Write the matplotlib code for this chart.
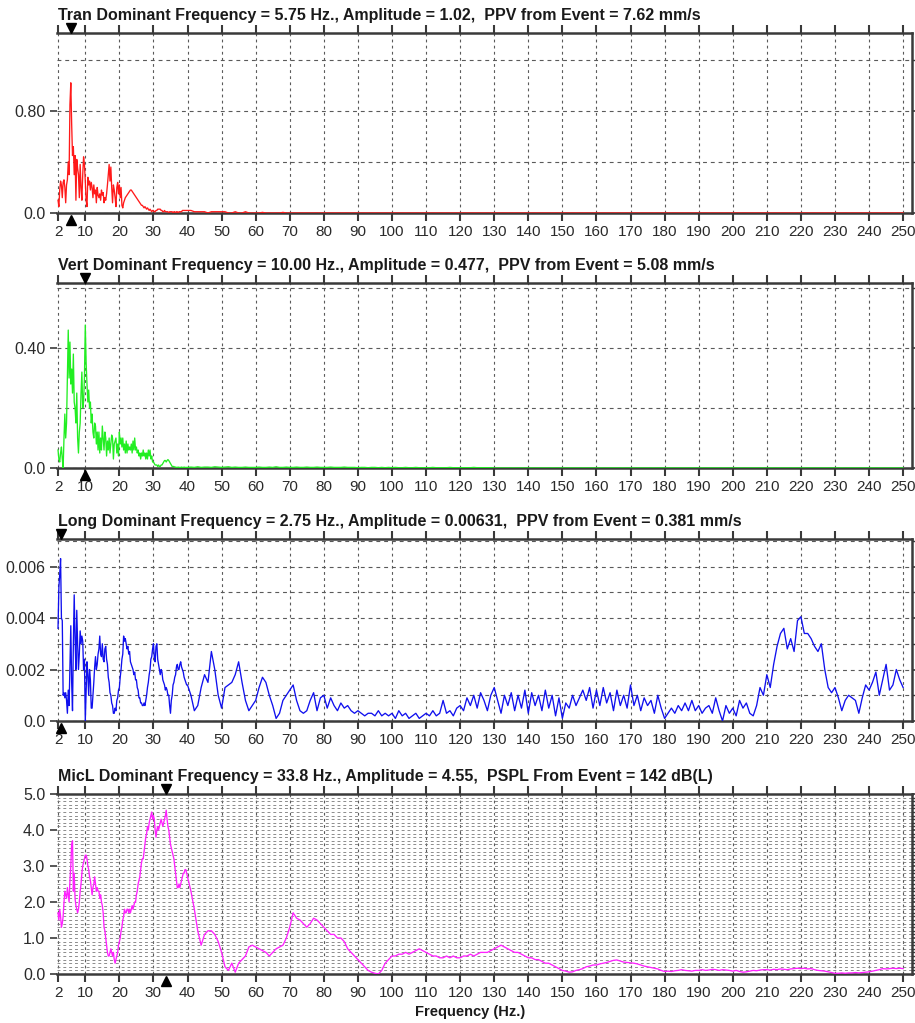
import numpy as np
import matplotlib
matplotlib.use("Agg")
import matplotlib.pyplot as plt
from matplotlib.ticker import FixedLocator, MultipleLocator
from matplotlib.transforms import ScaledTranslation

plt.rcParams['font.family'] = ['Liberation Sans', 'DejaVu Sans']

# spectra are stored on two frequency grids: 0.25 Hz below 40 Hz, 1 Hz above
freq_fine = np.arange(2.0, 40.0, 0.25)
freq_coarse = np.arange(40.0, 251.0, 1.0)

tran_fine = [
    0.10, 0.05, 0.18, 0.25, 0.22, 0.12, 0.24, 0.26,
    0.20, 0.08, 0.22, 0.26, 0.40, 0.30, 0.85, 1.02,
    0.70, 0.45, 0.52, 0.30, 0.45, 0.10, 0.42, 0.35,
    0.30, 0.12, 0.38, 0.20, 0.10, 0.30, 0.44, 0.38,
    0.25, 0.10, 0.05, 0.28, 0.22, 0.25, 0.18, 0.24,
    0.20, 0.12, 0.22, 0.15, 0.18, 0.08, 0.20, 0.14,
    0.12, 0.15, 0.10, 0.18, 0.14, 0.16, 0.08, 0.12,
    0.10, 0.15, 0.22, 0.30, 0.38, 0.25, 0.36, 0.20,
    0.08, 0.22, 0.18, 0.12, 0.05, 0.20, 0.24, 0.15,
    0.22, 0.12, 0.20, 0.06, 0.04, 0.08, 0.10, 0.12,
    0.13, 0.14, 0.15, 0.16, 0.17, 0.18, 0.18, 0.17,
    0.16, 0.15, 0.14, 0.13, 0.12, 0.11, 0.10, 0.09,
    0.08, 0.07, 0.06, 0.06, 0.05, 0.04, 0.05, 0.04,
    0.03, 0.04, 0.03, 0.02, 0.03, 0.02, 0.01, 0.02,
    0.02, 0.01, 0.01, 0.02, 0.02, 0.03, 0.03, 0.03,
    0.03, 0.02, 0.02, 0.01, 0.01, 0.02, 0.01, 0.01,
    0.01, 0.01, 0.00, 0.01, 0.01, 0.01, 0.01, 0.00,
    0.01, 0.01, 0.00, 0.01, 0.01, 0.00, 0.01, 0.01,
    0.01, 0.01, 0.02, 0.02, 0.02, 0.02, 0.02, 0.02,
]
tran_coarse = [
    0.02, 0.02, 0.01, 0.01, 0.01, 0.01, 0.00, 0.01, 0.01, 0.01,
    0.01, 0.01, 0.00, 0.00, 0.01, 0.00, 0.00, 0.01, 0.00, 0.00,
    0.00, 0.00, 0.005, 0.00, 0.00, 0.00, 0.00, 0.00, 0.005, 0.00,
] + [0.0] * 181

vert_fine = [
    0.06, 0.03, 0.02, 0.05, 0.07, 0.03, 0.00, 0.10,
    0.18, 0.10, 0.15, 0.30, 0.46, 0.30, 0.42, 0.28,
    0.33, 0.25, 0.38, 0.22, 0.20, 0.15, 0.25, 0.10,
    0.05, 0.12, 0.15, 0.25, 0.32, 0.20, 0.22, 0.30,
    0.477, 0.35, 0.28, 0.22, 0.26, 0.20, 0.22, 0.15,
    0.18, 0.12, 0.10, 0.15, 0.14, 0.08, 0.12, 0.06,
    0.12, 0.05, 0.10, 0.06, 0.14, 0.10, 0.06, 0.12,
    0.10, 0.04, 0.09, 0.06, 0.10, 0.05, 0.08, 0.11,
    0.10, 0.03, 0.08, 0.09, 0.10, 0.05, 0.08, 0.04,
    0.12, 0.08, 0.10, 0.07, 0.10, 0.06, 0.08, 0.05,
    0.09, 0.05, 0.08, 0.06, 0.07, 0.06, 0.08, 0.05,
    0.09, 0.06, 0.10, 0.06, 0.07, 0.05, 0.06, 0.04,
    0.05, 0.03, 0.05, 0.04, 0.06, 0.04, 0.05, 0.03,
    0.05, 0.03, 0.06, 0.04, 0.06, 0.03, 0.04, 0.02,
    0.02, 0.015, 0.01, 0.01, 0.01, 0.005, 0.01, 0.005,
    0.005, 0.01, 0.01, 0.015, 0.02, 0.025, 0.025, 0.02,
    0.025, 0.028, 0.025, 0.02, 0.015, 0.01, 0.005, 0.005,
    0.005, 0.003, 0.003, 0.002, 0.002, 0.003, 0.002, 0.002,
    0.002, 0.003, 0.002, 0.002, 0.003, 0.002, 0.002, 0.002,
]
vert_coarse = [
    0.002, 0.003, 0.002, 0.004, 0.002, 0.003, 0.003, 0.002, 0.004, 0.003,
    0.002, 0.003, 0.004, 0.002, 0.003, 0.002, 0.002, 0.003, 0.002, 0.002,
    0.002, 0.003, 0.002, 0.002, 0.003, 0.002, 0.004, 0.002, 0.002, 0.003,
    0.002, 0.002, 0.003, 0.002, 0.002, 0.003, 0.002, 0.002, 0.003, 0.002,
    0.002, 0.002, 0.003, 0.002, 0.002, 0.002, 0.003, 0.002, 0.002, 0.002,
    0.001, 0.002, 0.002, 0.001, 0.002, 0.002, 0.001, 0.002, 0.001, 0.002,
    0.001, 0.002, 0.001, 0.001, 0.002, 0.001, 0.001, 0.002, 0.001, 0.001,
    0.001, 0.001, 0.002, 0.001, 0.001, 0.001, 0.001, 0.002, 0.001, 0.001,
    0.001, 0.001, 0.001, 0.001, 0.002, 0.001, 0.001, 0.001, 0.001, 0.001,
] + [0.0] * 121

# longitudinal amplitudes in units of 1e-3
long_fine_e3 = [
    3.6, 5.2, 5.7, 6.31, 4.0, 3.9, 1.0, 1.1,
    0.9, 1.1, 0.8, 0.3, 1.2, 0.6, 2.2, 3.7,
    1.5, 0.4, 3.0, 4.9, 3.2, 2.0, 4.3, 3.0,
    2.0, 2.6, 3.5, 3.0, 3.3, 3.1, 2.0, 2.4,
    0.0, 1.2, 2.3, 1.8, 1.0, 2.0, 1.6, 0.5,
    0.5, 1.0, 1.5, 2.1, 2.5, 2.0, 2.2, 2.6,
    2.8, 3.3, 2.6, 2.5, 3.0, 2.4, 2.3, 2.8,
    2.9, 2.4, 2.2, 1.7, 1.5, 1.1, 1.0, 0.7,
    0.6, 0.3, 0.3, 0.5, 0.4, 0.8, 0.9, 1.2,
    1.3, 1.7, 2.0, 2.4, 2.6, 3.3, 3.1, 3.2,
    3.0, 2.8, 2.9, 2.6, 2.7, 2.3, 2.2, 2.1,
    2.0, 1.8, 1.9, 1.6, 1.6, 1.3, 1.2, 0.9,
    0.9, 0.7, 0.7, 0.6, 0.6, 0.7, 0.6, 0.8,
    1.0, 1.3, 1.5, 1.8, 2.0, 2.4, 2.5, 2.8,
    3.0, 2.5, 2.3, 2.9, 3.0, 2.4, 2.2, 2.0,
    1.8, 2.0, 1.9, 1.6, 1.5, 1.4, 1.2, 1.3,
    1.2, 1.0, 1.0, 0.6, 0.3, 0.8, 1.0, 1.4,
    1.5, 1.7, 1.8, 2.1, 2.2, 2.0, 2.0, 2.2,
    2.3, 2.1, 2.0, 1.9, 1.7, 1.6, 1.5, 1.4,
]
long_coarse_e3 = [
    1.4, 1.0, 0.4, 0.6, 1.3, 1.8, 1.5, 2.7, 2.0, 1.0,
    0.5, 1.3, 1.4, 1.5, 1.8, 2.3, 1.5, 0.8, 0.4, 0.6,
    0.8, 1.3, 1.7, 1.5, 1.0, 0.6, 0.1, 0.3, 0.8, 1.0,
    1.2, 1.4, 0.8, 0.4, 0.3, 0.4, 0.8, 1.1, 0.4, 0.9,
    1.0, 0.5, 0.9, 0.6, 0.4, 0.7, 0.5, 0.6, 0.4, 0.3,
    0.4, 0.3, 0.2, 0.3, 0.3, 0.2, 0.4, 0.2, 0.3, 0.2,
    0.3, 0.1, 0.4, 0.2, 0.3, 0.1, 0.2, 0.3, 0.1, 0.2,
    0.3, 0.2, 0.4, 0.2, 0.3, 0.8, 0.3, 0.4, 0.2, 0.5,
    0.6, 0.4, 0.9, 0.6, 1.0, 0.5, 1.1, 0.8, 0.4, 1.0,
    1.3, 0.8, 0.3, 1.0, 0.6, 1.1, 0.4, 1.0, 0.5, 1.2,
    0.3, 1.1, 0.6, 1.0, 0.4, 1.2, 0.5, 1.0, 0.2, 0.9,
    0.1, 0.7, 0.5, 1.0, 0.6, 0.9, 1.2, 0.8, 1.3, 0.5,
    1.2, 0.6, 1.3, 0.7, 1.1, 0.4, 1.2, 0.6, 1.0, 0.5,
    1.4, 0.6, 1.0, 0.4, 0.9, 0.6, 0.8, 0.3, 1.0, 0.5,
    0.1, 0.3, 0.5, 0.3, 0.6, 0.4, 0.7, 0.4, 0.8, 0.4,
    0.6, 0.3, 0.5, 0.6, 0.3, 0.9, 0.4, 0.0, 0.6, 0.3,
    0.5, 0.2, 0.8, 0.5, 0.7, 0.3, 0.2, 0.6, 1.3, 1.0,
    1.8, 1.3, 2.2, 2.9, 3.4, 3.6, 2.8, 3.2, 2.7, 3.9,
    4.05, 3.4, 3.4, 3.2, 2.9, 2.7, 3.0, 2.0, 1.3, 1.1,
    1.3, 0.9, 0.4, 0.8, 1.0, 0.9, 0.8, 0.3, 0.9, 1.4,
    1.2, 1.5, 1.9, 1.0, 1.6, 2.2, 1.2, 1.4, 2.0, 1.6,
    1.3,
]

mic_fine = [
    1.7, 1.5, 1.8, 1.6, 1.3, 1.4, 1.6, 2.0,
    2.3, 2.2, 2.1, 2.4, 2.2, 2.0, 2.6, 3.0,
    3.6, 3.7, 2.3, 2.8, 2.1, 1.9, 1.8, 1.7,
    1.8, 2.0, 2.3, 2.5, 2.8, 3.0, 3.1, 3.2,
    3.3, 3.3, 3.2, 3.0, 2.9, 2.7, 2.6, 2.4,
    2.2, 2.4, 2.5, 2.7, 2.5, 2.3, 2.4, 2.3,
    2.3, 2.1, 2.2, 2.0, 1.9, 1.7, 1.3, 1.2,
    1.0, 0.8, 0.6, 0.5, 0.5, 0.6, 0.7, 0.6,
    0.5, 0.6, 0.4, 0.3, 0.4, 0.5, 0.6, 0.8,
    0.9, 1.0, 1.2, 1.3, 1.5, 1.6, 1.8, 1.7,
    1.7, 1.8, 1.8, 1.7, 1.8, 1.7, 1.8, 1.9,
    1.8, 1.9, 2.0, 2.0, 2.2, 2.3, 2.5, 2.6,
    2.7, 2.9, 3.1, 3.2, 3.2, 3.4, 3.6, 3.8,
    3.9, 4.1, 4.0, 4.2, 4.3, 4.4, 4.5, 4.3,
    4.4, 4.3, 4.0, 3.8, 4.0, 4.1, 4.0, 4.1,
    4.2, 4.3, 4.2, 4.1, 4.2, 4.3, 4.4, 4.55,
    4.3, 4.1, 4.0, 3.8, 3.6, 3.5, 3.4, 3.3,
    3.2, 3.0, 2.8, 2.6, 2.4, 2.4, 2.5, 2.4,
    2.5, 2.6, 2.7, 2.8, 2.8, 2.9, 2.9, 2.8,
]
mic_coarse = [
    2.7, 2.3, 1.8, 1.2, 0.8, 1.1, 1.2, 1.2, 1.1, 0.9,
    0.6, 0.2, 0.1, 0.3, 0.05, 0.3, 0.4, 0.5, 0.75, 0.8,
    0.75, 0.7, 0.65, 0.6, 0.5, 0.6, 0.7, 0.75, 0.8, 1.0,
    1.3, 1.7, 1.55, 1.5, 1.4, 1.3, 1.4, 1.55, 1.5, 1.4,
    1.3, 1.2, 1.1, 1.1, 1.0, 1.0, 0.9, 0.7, 0.6, 0.5,
    0.4, 0.3, 0.2, 0.1, 0.05, 0.02, 0.0, 0.1, 0.3, 0.4,
    0.5, 0.5, 0.55, 0.55, 0.6, 0.55, 0.6, 0.65, 0.7, 0.65,
    0.6, 0.55, 0.5, 0.5, 0.45, 0.45, 0.5, 0.45, 0.5, 0.45,
    0.45, 0.5, 0.5, 0.55, 0.5, 0.55, 0.6, 0.6, 0.6, 0.65,
    0.7, 0.75, 0.8, 0.75, 0.7, 0.65, 0.6, 0.6, 0.55, 0.5,
    0.45, 0.45, 0.4, 0.4, 0.35, 0.3, 0.3, 0.25, 0.2, 0.15,
    0.1, 0.08, 0.05, 0.06, 0.1, 0.12, 0.15, 0.2, 0.22, 0.25,
    0.25, 0.28, 0.3, 0.32, 0.35, 0.38, 0.39, 0.36, 0.33, 0.32,
    0.31, 0.3, 0.28, 0.25, 0.22, 0.2, 0.18, 0.16, 0.14, 0.1,
    0.07, 0.08, 0.07, 0.09, 0.1, 0.12, 0.1, 0.09, 0.08, 0.1,
    0.1, 0.12, 0.1, 0.11, 0.13, 0.12, 0.1, 0.12, 0.11, 0.1,
    0.08, 0.1, 0.07, 0.05, 0.06, 0.08, 0.1, 0.09, 0.11, 0.12,
    0.12, 0.11, 0.13, 0.12, 0.14, 0.13, 0.12, 0.14, 0.15, 0.16,
    0.15, 0.16, 0.14, 0.15, 0.12, 0.1, 0.09, 0.08, 0.06, 0.04,
    0.02, 0.02, 0.03, 0.02, 0.03, 0.03, 0.04, 0.03, 0.04, 0.05,
    0.06, 0.08, 0.1, 0.12, 0.15, 0.14, 0.15, 0.16, 0.15, 0.16,
    0.15,
]

titles = [
    "Tran Dominant Frequency = 5.75 Hz., Amplitude = 1.02,  PPV from Event = 7.62 mm/s",
    "Vert Dominant Frequency = 10.00 Hz., Amplitude = 0.477,  PPV from Event = 5.08 mm/s",
    "Long Dominant Frequency = 2.75 Hz., Amplitude = 0.00631,  PPV from Event = 0.381 mm/s",
    "MicL Dominant Frequency = 33.8 Hz., Amplitude = 4.55,  PSPL From Event = 142 dB(L)",
]
dominant_freqs = [5.75, 10.0, 2.75, 33.75]
colors = ['#ff1a1a', '#22ee22', '#1010ee', '#ff22ff']
ymax = [1.41, 0.617, 0.00707, 5.0]
ytick_vals = [[0.0, 0.8], [0.0, 0.4], [0.0, 0.002, 0.004, 0.006],
              [0.0, 1.0, 2.0, 3.0, 4.0, 5.0]]
ytick_labels = [["0.0", "0.80"], ["0.0", "0.40"], ["0.0", "0.002", "0.004", "0.006"],
                ["0.0", "1.0", "2.0", "3.0", "4.0", "5.0"]]
ygrid_step = [0.4, 0.2, 0.001, 0.1]
xticks = [2] + list(range(10, 251, 10))

freq = np.concatenate([freq_fine, freq_coarse])
series = [
    np.concatenate([tran_fine, tran_coarse]),
    np.concatenate([vert_fine, vert_coarse]),
    np.concatenate([long_fine_e3, long_coarse_e3]) * 1e-3,
    np.concatenate([mic_fine, mic_coarse]),
]

W, H = 915, 1023
fig = plt.figure(figsize=(W / 100, H / 100), dpi=100)
# (top, bottom) of each plot frame in pixels
frames = [(33, 213), (283, 468), (539, 721), (794, 974)]
left_px, right_px = 57, 912

spine_col = '#3a3a3a'
grid_col = '#5a5a5a'
text_col = '#2a2a2a'

for i, (top, bot) in enumerate(frames):
    ax = fig.add_axes([left_px / W, 1 - bot / H, (right_px - left_px) / W, (bot - top) / H])
    ax.plot(freq, series[i], color=colors[i], lw=0.95, zorder=3)
    ax.set_xlim(1.7, 252.6)
    ax.set_ylim(0, ymax[i])

    ax.xaxis.set_major_locator(FixedLocator(xticks))
    ax.set_xticklabels([str(t) for t in xticks])
    ax.yaxis.set_major_locator(FixedLocator(ytick_vals[i]))
    ax.set_yticklabels(ytick_labels[i])
    ax.yaxis.set_minor_locator(MultipleLocator(ygrid_step[i]))

    hgrid_lw = 0.6 if i == 3 else 0.8
    hgrid_col = '#7a7a7a' if i == 3 else grid_col
    ax.grid(True, axis='x', which='major', color=grid_col, lw=0.8, ls=(0, (2.5, 3.0)))
    ax.grid(True, axis='y', which='both', color=hgrid_col, lw=hgrid_lw, ls=(0, (3.5, 3.5)))
    ax.set_axisbelow(True)

    ax.spines['left'].set_visible(False)
    for side in ('top', 'bottom', 'right'):
        ax.spines[side].set_linewidth(1.8)
        ax.spines[side].set_color(spine_col)

    ax.tick_params(axis='x', which='major', top=True, bottom=True, direction='out',
                   length=5.5, width=1.5, color=spine_col, labelsize=11,
                   labelcolor=text_col, pad=3)
    ax.tick_params(axis='y', which='major', left=True, right=True, direction='out',
                   length=5, width=1.2, color=spine_col, labelsize=11.5,
                   labelcolor=text_col, pad=3.5)
    ax.tick_params(axis='y', which='minor', left=False, right=True, direction='out',
                   length=3, width=1.0, color=spine_col)

    ax.text(0.0, 1.0, titles[i],
            transform=ax.transAxes + ScaledTranslation(1 / 100, 13 / 100, fig.dpi_scale_trans),
            ha='left', va='baseline', fontsize=11.5, fontweight='bold', color='#1a1a1a')

    # dominant frequency markers above and below the frame
    f0 = dominant_freqs[i]
    xt = ax.get_xaxis_transform()
    ax.plot([f0], [1.0], marker='v', ms=7.5, color='black', clip_on=False, zorder=5,
            transform=xt + ScaledTranslation(0, 5 / 100, fig.dpi_scale_trans))
    ax.plot([f0], [0.0], marker='^', ms=7.5, color='black', clip_on=False, zorder=5,
            transform=xt + ScaledTranslation(0, -7 / 100, fig.dpi_scale_trans))

fig.text(470 / W, 1 - 1012 / H, "Frequency (Hz.)", ha='center', va='center',
         fontsize=10.5, fontweight='bold', color='#1a1a1a')

fig.savefig("out.png", dpi=100)
